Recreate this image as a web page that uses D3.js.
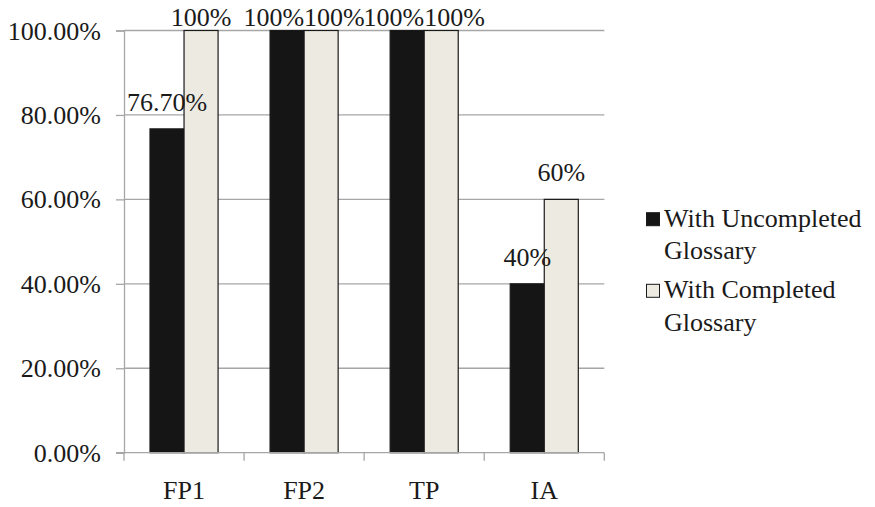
<!DOCTYPE html>
<html><head><meta charset="utf-8">
<script src="https://cdn.jsdelivr.net/npm/d3@7"></script>
<style>body{margin:0;background:#fff;}</style>
</head><body>
<svg id="c" width="875" height="507"></svg>
<script>
const categories = ["FP1", "FP2", "TP", "IA"];
const seriesNames = ["With Uncompleted Glossary", "With Completed Glossary"];
const uncompleted = [0.767, 1.0, 1.0, 0.40];
const completed = [1.0, 1.0, 1.0, 0.60];
const valueLabels = [["76.70%", "100%"], ["100%", "100%"], ["100%", "100%"], ["40%", "60%"]];
const yTicks = [0, 0.2, 0.4, 0.6, 0.8, 1.0];
const colors = ["#151515", "#EDEBE1"];
const legendLines = [["With Uncompleted", "Glossary"], ["With Completed", "Glossary"]];

(function () {
const FONT = '"Liberation Serif"';
const TXT = "#1a1a1a";
const svg = d3.select("#c");
const pL = 124, pR = 604.3, pT = 30.5, pB = 452.7;
const fs = 26;
const styleText = sel => sel.style("font-family", FONT).style("font-size", fs + "px").style("fill", TXT);

const x = d3.scaleBand().domain(categories).range([pL, pR]).paddingInner(0.433).paddingOuter(0.2165);
const xs = d3.scaleBand().domain([0, 1]).range([0, x.bandwidth()]);
const y = d3.scaleLinear().domain([0, 1]).range([pB, pT]);

// gridlines
svg.append("g").selectAll("line").data(yTicks.filter(d => d > 0)).join("line")
  .attr("x1", pL).attr("x2", pR).attr("y1", d => y(d)).attr("y2", d => y(d))
  .attr("stroke", "#a6a6a6").attr("stroke-width", 1.3);

// y axis
const yAxis = d3.axisLeft(y).tickValues(yTicks).tickFormat(d3.format(".2%")).tickSize(8).tickPadding(15);
const gy = svg.append("g").attr("transform", `translate(${pL},0)`).call(yAxis);
gy.attr("font-family", null);
gy.select(".domain").attr("stroke", "#a6a6a6").attr("stroke-width", 1.3);
gy.selectAll(".tick line").attr("stroke", "#a6a6a6").attr("stroke-width", 1.3);
gy.selectAll(".tick text").call(styleText).attr("dy", "0.33em");

// bars
const data = categories.map((c, i) => ({c, vals: [uncompleted[i], completed[i]], labels: valueLabels[i]}));
const groups = svg.append("g").selectAll("g").data(data).join("g")
  .attr("transform", d => `translate(${x(d.c)},0)`);
groups.selectAll("rect").data(d => d.vals.map((v, k) => ({v, k}))).join("rect")
  .attr("x", d => xs(d.k)).attr("width", xs.bandwidth())
  .attr("y", d => y(d.v)).attr("height", d => y(0) - y(d.v))
  .attr("fill", d => colors[d.k]).attr("stroke", "#1a1a1a").attr("stroke-width", 1.2);

// x axis
const gx = svg.append("g");
gx.append("line").attr("x1", pL - 8).attr("x2", pR).attr("y1", pB).attr("y2", pB)
  .attr("stroke", "#a6a6a6").attr("stroke-width", 1.3);
const bounds = categories.map(c => x(c) - x.step() * x.paddingInner() / 2).concat([pR]);
gx.selectAll("line.t").data(bounds).join("line").attr("class", "t")
  .attr("x1", d => d).attr("x2", d => d).attr("y1", pB).attr("y2", pB + 8)
  .attr("stroke", "#a6a6a6").attr("stroke-width", 1.3);
gx.selectAll("text").data(categories).join("text")
  .attr("x", d => x(d) + x.bandwidth() / 2).attr("y", 499.3)
  .attr("text-anchor", "middle").call(styleText).text(d => d);

// value labels with simple overlap resolution
const lab = svg.append("g");
data.forEach(d => {
  const items = d.vals.map((v, k) => {
    const t = lab.append("text").call(styleText).attr("text-anchor", "middle").text(d.labels[k]);
    const w = t.node().getComputedTextLength();
    const cx = x(d.c) + xs(k) + xs.bandwidth() / 2;
    const base = Math.max(y(v) - 18, 26);
    return {t, w, cx, base};
  });
  const a = items[0], b = items[1];
  if (Math.abs(a.base - b.base) < fs && (a.cx + a.w / 2) > (b.cx - b.w / 2)) {
    const mid = (a.cx + b.cx) / 2;
    a.cx = mid - a.w / 2; b.cx = mid + b.w / 2;
  }
  items.forEach(it => it.t.attr("x", it.cx).attr("y", it.base));
});

// legend
const lg = svg.append("g");
legendLines.forEach((lines, i) => {
  const y0 = 226.7 + i * 71.6;
  lg.append("rect").attr("x", 646.5).attr("y", y0 - 14).attr("width", 13).attr("height", 13)
    .attr("fill", colors[i]).attr("stroke", "#1a1a1a").attr("stroke-width", 1);
  const t = lg.append("text").attr("x", 664).attr("y", y0).call(styleText);
  lines.forEach((s, j) => {
    t.append("tspan").attr("x", 664).attr("dy", j === 0 ? 0 : 32.3).text(s);
  });
});
})();
</script>
</body></html>
